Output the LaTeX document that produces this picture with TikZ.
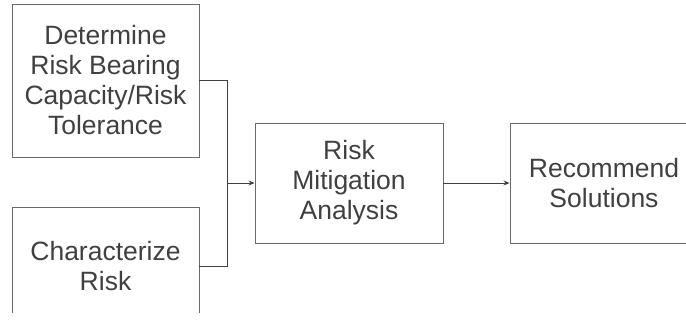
\documentclass[tikz,border=0pt]{standalone}
\usepackage{fontspec}
\setmainfont{Liberation Sans}
\usetikzlibrary{arrows.meta}
\definecolor{boxline}{HTML}{6A6A6A}
\definecolor{conline}{HTML}{404040}
\definecolor{txt}{HTML}{404040}
\tikzset{
  stepbox/.style={draw=boxline, line width=0.9pt, rectangle, align=center, inner sep=0pt,
    text=txt, font=\fontsize{26.5}{30}\selectfont},
  conn/.style={draw=conline, line width=0.9pt},
  arr/.style={conn, -{Stealth[length=6pt,width=5pt]}}
}
\begin{document}
\begin{tikzpicture}[x=1pt,y=-1pt]
\useasboundingbox (0,0) rectangle (686,323);
\begin{scope}
\clip (0,0) rectangle (686,313);
\node[stepbox, minimum width=187pt, minimum height=153pt] (det) at (105.5,80.5)
  {Determine\\Risk Bearing\\Capacity/Risk\\Tolerance};
\node[stepbox, minimum width=187pt, minimum height=118pt] (char) at (105.5,266)
  {Characterize\\Risk};
\node[stepbox, minimum width=188pt, minimum height=120pt] (mit) at (349,183)
  {Risk\\Mitigation\\Analysis};
\node[stepbox, minimum width=188pt, minimum height=120pt] (rec) at (604,183)
  {Recommend\\Solutions};
\coordinate (j) at (227,183);
\draw[conn] (det.east) -| (j);
\draw[conn] (char.east) -| (j);
\draw[arr] (j) -- (mit.west);
\draw[arr] (mit.east) -- (rec.west);
\end{scope}
\end{tikzpicture}
\end{document}
